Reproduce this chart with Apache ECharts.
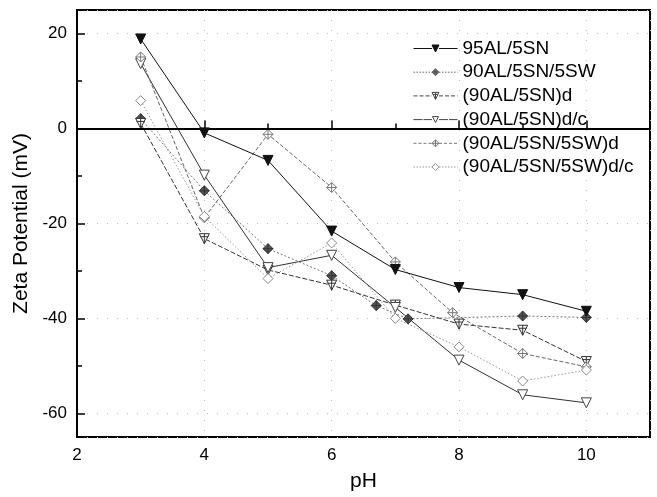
<!DOCTYPE html>
<html>
<head>
<meta charset="utf-8">
<script src="https://cdn.jsdelivr.net/npm/echarts@6/dist/echarts.min.js"></script>
<style>
  html, body { margin: 0; padding: 0; background: #fff; }
  #chart { width: 657px; height: 497px; }
</style>
</head>
<body>
<div id="chart"></div>
<script>
// Zeta potential vs pH for six powder compositions
const seriesNames = [
  '95AL/5SN',
  '90AL/5SN/5SW',
  '(90AL/5SN)d',
  '(90AL/5SN)d/c',
  '(90AL/5SN/5SW)d',
  '(90AL/5SN/5SW)d/c'
];

const phAL5SN      = [3, 4, 5, 6, 7, 8, 9, 10];
const zetaAL5SN    = [18.9, -0.9, -6.7, -21.6, -29.7, -33.5, -35.0, -38.5];

const phAL5SW      = [3, 4, 5, 6, 6.7, 7.2, 9, 10];
const zetaAL5SW    = [2.1, -13.1, -25.3, -31.0, -37.3, -40.1, -39.5, -39.8];

const phSNd        = [3, 4, 5, 6, 7, 8, 9, 10];
const zetaSNd      = [1.1, -23.2, -29.8, -33.0, -37.2, -41.2, -42.5, -49.1];

const phSNdc       = [3, 4, 5, 6, 7, 8, 9, 10];
const zetaSNdc     = [13.7, -9.8, -29.3, -26.7, -37.7, -48.8, -56.1, -57.8];

const phSWd        = [3, 4, 5, 6, 7, 7.9, 9, 10];
const zetaSWd      = [15.1, -18.8, -1.2, -12.4, -28.1, -38.8, -47.4, -50.2];

const phSWdc       = [3, 4, 5, 6, 7, 8, 9, 10];
const zetaSWdc     = [5.9, -18.5, -31.6, -24.1, -40.0, -46.0, -53.2, -50.9];

const xTickLabels = ['2', '4', '6', '8', '10'];
const yTickLabels = ['-60', '-40', '-20', '0', '20'];

const pair = (xs, ys) => xs.map((x, i) => [x, ys[i]]);

// marker outlines for the plot
const triDownFilled = 'path://M0,0L10,0L5,10Z';
const triDownHollow = 'path://M0,0L10,0L5,10L0,0Z';
const triCross = 'path://M0,0L10,0L5,10Z M5,0L5,10 M1,3L9,3';
const diaCross = 'path://M5,0L10,5L5,10L0,5Z M5,0L5,10 M0,5L10,5';

// legend icons: a short (possibly dashed) line with the marker in its middle,
// laid out in a 44 x 7 box
const ICON_W = 44, ICON_H = 7;
function dashedSegment(x0, x1, y, dash) {
  if (!dash) return `M${x0},${y}L${x1},${y}`;
  let s = '', x = x0, on = true, k = 0;
  while (x < x1) {
    const len = dash[k % dash.length];
    const nx = Math.min(x + len, x1);
    if (on) s += `M${x.toFixed(2)},${y}L${nx.toFixed(2)},${y}`;
    x = nx; on = !on; k++;
  }
  return s;
}
const MARKS = {
  triFilled: 'M18.5,0L25.5,0L22,7Z',
  triHollow: 'M19,0.5L25,0.5L22,6.5L19,0.5Z',
  triCross:  'M18.5,0L25.5,0L22,7Z M22,0L22,7 M19.5,2L24.5,2',
  diamond:   'M22,0L25.5,3.5L22,7L18.5,3.5Z',
  diaCross:  'M22,0L25.5,3.5L22,7L18.5,3.5Z M22,0L22,7 M18.5,3.5L25.5,3.5'
};
function legendIcon(mark, dash) {
  const y = ICON_H / 2;
  // corner anchors keep every icon on the same 44 x 7 bounding box
  return 'path://M0,0L0,0 M' + ICON_W + ',' + ICON_H + 'L' + ICON_W + ',' + ICON_H + ' ' +
         dashedSegment(0, 18.5, y, dash) + ' ' +
         dashedSegment(25.5, ICON_W, y, dash) + ' ' + MARKS[mark];
}

const FONT = '"Liberation Sans", Arial, sans-serif';

function lineSeries(name, data, opt) {
  return Object.assign({
    name: name,
    type: 'line',
    data: data,
    xAxisIndex: 0,
    yAxisIndex: 0,
    symbolSize: 10,
    showAllSymbol: true,
    animation: false,
    emphasis: { disabled: true },
    z: 3
  }, opt);
}

const legendItems = [
  { name: seriesNames[0], icon: legendIcon('triFilled', null),
    itemStyle: { color: '#111', borderColor: '#111', borderWidth: 1 } },
  { name: seriesNames[1], icon: legendIcon('diaCross', [1.5, 1.5]),
    itemStyle: { color: '#555', borderColor: '#666', borderWidth: 1 } },
  { name: seriesNames[2], icon: legendIcon('triCross', [4, 2]),
    itemStyle: { color: '#fff', borderColor: '#444', borderWidth: 1 } },
  { name: seriesNames[3], icon: legendIcon('triHollow', [9, 1]),
    itemStyle: { color: '#fff', borderColor: '#444', borderWidth: 1 } },
  { name: seriesNames[4], icon: legendIcon('diaCross', [3, 2]),
    itemStyle: { color: '#fff', borderColor: '#777', borderWidth: 1 } },
  { name: seriesNames[5], icon: legendIcon('diamond', [1.5, 1.5]),
    itemStyle: { color: '#fff', borderColor: '#999', borderWidth: 1 } }
];

const chart = echarts.init(document.getElementById('chart'), null, { renderer: 'canvas' });

const option = {
  backgroundColor: '#fff',
  animation: false,
  grid: {
    left: 77, right: 7, top: 10, bottom: 60,
    show: true,
    borderColor: '#000',
    borderWidth: 2,
    backgroundColor: 'transparent'
  },
  legend: {
    orient: 'vertical',
    left: 408,
    top: 34,
    selectedMode: false,
    iconRotate: 0,
    itemWidth: ICON_W,
    itemHeight: ICON_H,
    itemGap: 4.7,
    textStyle: { fontFamily: FONT, fontSize: 19, color: '#000', lineHeight: 19 },
    data: legendItems
  },
  xAxis: [
    {
      type: 'value',
      min: 2, max: 11, interval: 2,
      position: 'bottom',
      name: 'pH',
      nameLocation: 'middle',
      nameGap: 34,
      nameTextStyle: { fontFamily: FONT, fontSize: 21, color: '#000' },
      axisLine: { show: true, lineStyle: { color: '#000', width: 2 } },
      axisTick: { show: true, inside: true, length: 8, lineStyle: { color: '#000', width: 1.5 } },
      axisLabel: {
        showMaxLabel: false,
        margin: 10,
        fontFamily: FONT, fontSize: 17, color: '#000',
        formatter: v => xTickLabels.includes(String(v)) ? String(v) : ''
      },
      splitLine: { show: true, lineStyle: { color: '#bbb', width: 1, type: [1, 9] } }
    },
    {
      // minor ticks at every pH unit
      type: 'value',
      min: 2, max: 11, interval: 1,
      position: 'bottom',
      axisLine: { show: false },
      axisTick: { show: true, inside: true, length: 5, lineStyle: { color: '#000', width: 1.5 } },
      axisLabel: { show: false },
      splitLine: { show: false }
    }
  ],
  yAxis: [
    {
      type: 'value',
      min: -65, max: 25, splitNumber: 5,
      position: 'left',
      name: 'Zeta Potential (mV)',
      nameLocation: 'middle',
      nameGap: 45,
      nameTextStyle: { fontFamily: FONT, fontSize: 21, color: '#000' },
      axisLine: { show: true, lineStyle: { color: '#000', width: 2 } },
      axisTick: { show: true, inside: true, length: 8, lineStyle: { color: '#000', width: 1.5 } },
      axisLabel: {
        showMinLabel: false, showMaxLabel: false,
        margin: 10,
        fontFamily: FONT, fontSize: 17, color: '#000',
        formatter: v => yTickLabels.includes(String(v)) ? String(v) : ''
      },
      splitLine: { show: true, lineStyle: { color: '#bbb', width: 1, type: [1, 9] } }
    },
    {
      // minor ticks every 10 mV
      type: 'value',
      min: -65, max: 25, splitNumber: 9,
      position: 'left',
      axisLine: { show: false },
      axisTick: { show: true, inside: true, length: 5, lineStyle: { color: '#000', width: 1.5 } },
      axisLabel: { show: false },
      splitLine: { show: false }
    }
  ],
  series: [
    lineSeries(seriesNames[0], pair(phAL5SN, zetaAL5SN), {
      symbol: triDownFilled,
      itemStyle: { color: '#111', borderColor: '#111', borderWidth: 1 },
      lineStyle: { color: '#111', width: 1, type: 'solid' },
      z: 5,
      markLine: {
        silent: true,
        symbol: ['none', 'none'],
        label: { show: false },
        lineStyle: { color: '#000', width: 2, type: 'solid' },
        data: [{ yAxis: 0 }],
        animation: false
      }
    }),
    lineSeries(seriesNames[1], pair(phAL5SW, zetaAL5SW), {
      symbol: diaCross,
      itemStyle: { color: '#555', borderColor: '#333', borderWidth: 1 },
      lineStyle: { color: '#777', width: 1, type: [2, 2] }
    }),
    lineSeries(seriesNames[2], pair(phSNd, zetaSNd), {
      symbol: triCross,
      itemStyle: { color: '#fff', borderColor: '#333', borderWidth: 1 },
      lineStyle: { color: '#333', width: 1, type: [5, 2] }
    }),
    lineSeries(seriesNames[3], pair(phSNdc, zetaSNdc), {
      symbol: triDownHollow,
      itemStyle: { color: '#fff', borderColor: '#444', borderWidth: 1 },
      lineStyle: { color: '#333', width: 1, type: 'solid' }
    }),
    lineSeries(seriesNames[4], pair(phSWd, zetaSWd), {
      symbol: diaCross,
      itemStyle: { color: '#fff', borderColor: '#777', borderWidth: 1 },
      lineStyle: { color: '#666', width: 1, type: [4, 2] }
    }),
    lineSeries(seriesNames[5], pair(phSWdc, zetaSWdc), {
      symbol: 'diamond',
      itemStyle: { color: '#fff', borderColor: '#888', borderWidth: 1 },
      lineStyle: { color: '#999', width: 1, type: [1.5, 2] }
    })
  ]
};

chart.setOption(option);
</script>
</body>
</html>
